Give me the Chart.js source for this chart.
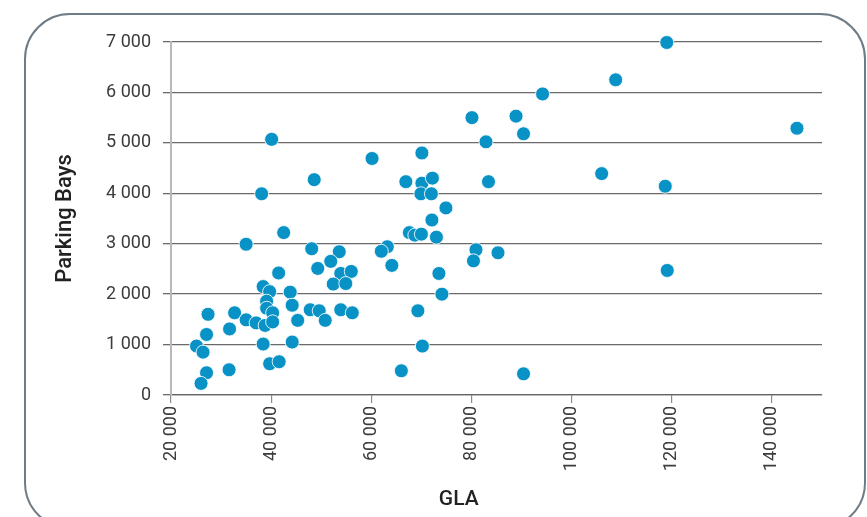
<!DOCTYPE html>
<html>
<head>
<meta charset="utf-8">
<script src="https://cdn.jsdelivr.net/npm/chart.js@4/dist/chart.umd.min.js"></script>
<style>
    html, body { margin: 0; padding: 0; background: #fff; }
    #wrap { position: relative; width: 867px; height: 517px; overflow: hidden; }
    #frame {
        position: absolute; left: 24px; top: 13px; width: 838px; height: 512px;
        border: 2.5px solid #6f7c86; border-radius: 46px;
    }
    #chart { position: absolute; left: 0; top: 0; }
</style>
</head>
<body>
<div id="wrap">
    <div id="frame"></div>
    <canvas id="chart" width="867" height="517"></canvas>
</div>
<script>
// GLA (x) and parking bays (y)
const gla = [
    40100, 38100, 48600, 60150, 66900, 108800, 94200, 80100, 88900, 90400,
    82900, 70100, 70100, 72200, 69900, 72000, 83400, 106000, 74900, 72100,
    67600, 68700, 70000, 73000, 63200, 62000, 64100, 80900, 80400, 85300,
    73500, 74100, 69300, 70200, 66000, 90400, 119000, 145000, 118700, 119100,
    42500, 35000, 48100, 53600, 51900, 49300, 41500, 53900, 56000, 52400,
    54900, 38400, 39700, 43800, 39100, 44200, 39100, 40300, 27400, 32700,
    35000, 37000, 38800, 40300, 45300, 47800, 49600, 50800, 53900, 56200,
    31700, 27100, 25100, 26400, 38400, 44200, 39700, 41600, 27100, 31600,
    26000
];
const parkingBays = [
    5070, 3990, 4270, 4690, 4230, 6250, 5970, 5500, 5530, 5180,
    5020, 4800, 4200, 4300, 3990, 3990, 4230, 4390, 3710, 3470,
    3220, 3170, 3190, 3130, 2940, 2850, 2570, 2880, 2660, 2820,
    2410, 2000, 1670, 970, 480, 420, 6990, 5290, 4140, 2470,
    3220, 2990, 2900, 2840, 2650, 2510, 2420, 2410, 2450, 2200,
    2210, 2150, 2050, 2040, 1860, 1780, 1720, 1630, 1600, 1630,
    1490, 1430, 1380, 1450, 1480, 1690, 1670, 1480, 1690, 1630,
    1310, 1200, 970, 850, 1010, 1050, 620, 660, 440, 500,
    230
];

// axis ranges and ticks
const xMin = 20000, xMax = 150000;
const xTicks = [20000, 40000, 60000, 80000, 100000, 120000, 140000];
const yMin = 0, yMax = 7000;
const yTicks = [0, 1000, 2000, 3000, 4000, 5000, 6000, 7000];

const points = gla.map((x, i) => ({ x, y: parkingBays[i] }));

// "7 000" style numbers
const fmt = v => String(v).replace(/\B(?=(\d{3})+(?!\d))/g, ' ');

// x axis title sits a bit left of the plot centre in the original
const xTitle = {
    id: 'xTitle',
    afterDraw(chart) {
        const { ctx, chartArea } = chart;
        ctx.save();
        ctx.font = '500 21px Roboto';
        ctx.fillStyle = '#222';
        ctx.textAlign = 'center';
        ctx.textBaseline = 'middle';
        ctx.fillText('GLA', chartArea.left + chartArea.width * 0.442, chart.height - 17);
        ctx.restore();
    }
};

const ctx = document.getElementById('chart').getContext('2d');
new Chart(ctx, {
    type: 'scatter',
    data: {
        datasets: [{
            data: points,
            backgroundColor: '#0892c6',
            borderColor: 'rgba(255,255,255,0.85)',
            borderWidth: 1,
            pointRadius: 7,
            pointHoverRadius: 7,
            clip: false
        }]
    },
    plugins: [xTitle],
    options: {
        responsive: false,
        animation: false,
        layout: { padding: { left: 50, top: 42, right: 45, bottom: 0 } },
        plugins: { legend: { display: false }, tooltip: { enabled: false } },
        scales: {
            x: {
                type: 'linear',
                min: xMin,
                max: xMax,
                afterFit: s => { s.height = 122; },
                afterBuildTicks: s => { s.ticks = xTicks.map(value => ({ value })); },
                ticks: {
                    autoSkip: false,
                    minRotation: 90,
                    maxRotation: 90,
                    padding: 3,
                    color: '#3c3c3c',
                    font: { family: 'Roboto', size: 18 },
                    callback: v => fmt(v)
                },
                grid: { drawOnChartArea: false, drawTicks: true, tickLength: 8, color: '#8a8a8a', lineWidth: 1.2 },
                border: { color: '#666', width: 1.2 },
                title: { display: false }
            },
            y: {
                min: yMin,
                max: yMax,
                afterFit: s => { s.width = 121; },
                afterBuildTicks: s => { s.ticks = yTicks.map(value => ({ value })); },
                ticks: {
                    autoSkip: false,
                    padding: 12,
                    color: '#3c3c3c',
                    font: { family: 'Roboto', size: 18 },
                    callback: v => fmt(v)
                },
                grid: { color: '#6a6a6a', lineWidth: 1.3, tickLength: 8 },
                border: { color: '#b8b8b8', width: 2 },
                title: {
                    display: true,
                    text: 'Parking Bays',
                    color: '#222',
                    font: { family: 'Roboto', size: 22, weight: '500' },
                    padding: { top: 2, bottom: 4 }
                }
            }
        }
    }
});
</script>
</body>
</html>
